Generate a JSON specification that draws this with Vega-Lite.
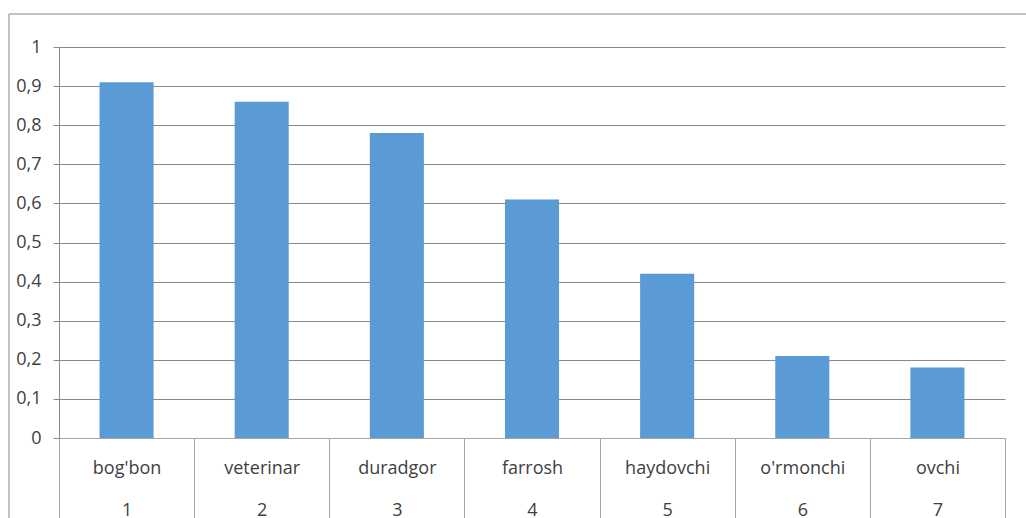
{
  "$schema": "https://vega.github.io/schema/vega-lite/v6.json",
  "width": 946,
  "height": 391,
  "autosize": {"type": "none"},
  "padding": {"left": 59, "top": 47, "right": 21, "bottom": 80},
  "background": "white",
  "config": {"view": {"stroke": null}, "font": "Open Sans"},
  "datasets": {
    "bars": [
      {"key": "bog'bon|1", "value": 0.91},
      {"key": "veterinar|2", "value": 0.86},
      {"key": "duradgor|3", "value": 0.78},
      {"key": "farrosh|4", "value": 0.61},
      {"key": "haydovchi|5", "value": 0.42},
      {"key": "o'rmonchi|6", "value": 0.21},
      {"key": "ovchi|7", "value": 0.18}
    ],
    "frame": [{"x0": -0.0529, "x1": 1.2, "y0": 1.0844, "y1": -0.4}]
  },
  "layer": [
    {
      "data": {"name": "frame"},
      "mark": {"type": "rect", "filled": false, "stroke": "#8a8a8a", "strokeWidth": 1, "clip": false},
      "encoding": {
        "x": {"field": "x0", "type": "quantitative", "scale": {"domain": [0, 1], "nice": false, "zero": false}, "axis": null},
        "x2": {"field": "x1"},
        "y": {"field": "y0", "type": "quantitative", "scale": {"domain": [0, 1], "nice": false}, "axis": null},
        "y2": {"field": "y1"}
      }
    },
    {
      "data": {"name": "bars"},
      "mark": {"type": "bar", "color": "#5B9BD5", "width": {"band": 0.4}},
      "encoding": {
        "x": {
          "field": "key",
          "type": "nominal",
          "sort": null,
          "scale": {"paddingInner": 0, "paddingOuter": 0},
          "axis": {
            "title": null,
            "labelExpr": "split(datum.label, '|')",
            "labelAngle": 0,
            "labelFontSize": 18,
            "labelColor": "#404040",
            "labelBaseline": "alphabetic",
            "labelLineHeight": 42,
            "labelPadding": -45,
            "labelOverlap": false,
            "labelLimit": 0,
            "tickBand": "extent",
            "tickSize": 80,
            "tickColor": "#a6a6a6",
            "tickWidth": 1,
            "domainColor": "#a6a6a6",
            "domainWidth": 1
          }
        },
        "y": {
          "field": "value",
          "type": "quantitative",
          "scale": {"domain": [0, 1], "nice": false},
          "axis": {
            "title": null,
            "values": [0, 0.1, 0.2, 0.3, 0.4, 0.5, 0.6, 0.7, 0.8, 0.9, 1],
            "format": "~g",
            "labelExpr": "replace(datum.label, '.', ',')",
            "labelFontSize": 18,
            "labelColor": "#404040",
            "labelPadding": 12,
            "labelOverlap": false,
            "tickSize": 6,
            "tickColor": "#8a8a8a",
            "domainColor": "#8a8a8a",
            "grid": true,
            "gridColor": "#8a8a8a",
            "gridWidth": 1
          }
        }
      }
    }
  ],
  "resolve": {"scale": {"x": "independent"}, "axis": {"y": "independent"}}
}
